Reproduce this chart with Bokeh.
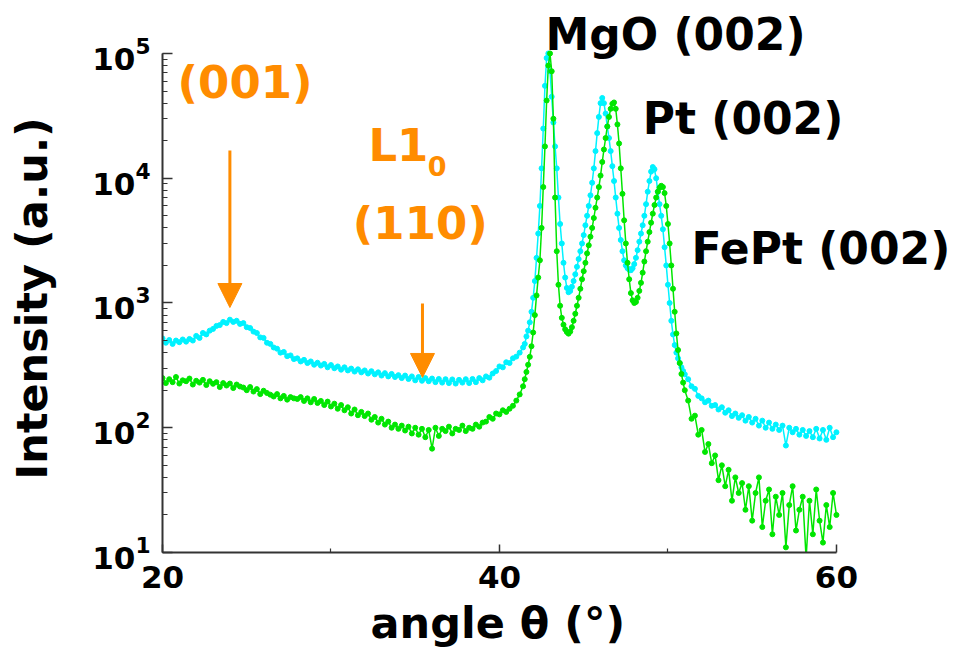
import numpy as np
from bokeh.plotting import figure
from bokeh.models import Range1d, Label, Arrow, NormalHead, FixedTicker, ColumnDataSource, Title
from bokeh.embed import file_html
from bokeh.resources import INLINE

# scan grid (degrees): three segments, finer around the Bragg peaks
angle_a = np.round(np.linspace(20.0, 41.4, 108), 2)
angle_b = np.round(np.linspace(41.5, 51.0, 96), 2)
angle_c = np.round(np.linspace(51.2, 60.0, 45), 2)

# cyan scan (upper curve), intensity in a.u.
cyan_a = [
    520, 480, 505, 470, 500, 485, 510, 490, 515, 500, 545, 525,
    575, 560, 600, 620, 655, 665, 705, 690, 735, 705, 720, 680,
    690, 640, 630, 590, 575, 530, 525, 480, 470, 440, 430, 400,
    405, 375, 380, 355, 360, 340, 350, 330, 340, 320, 332, 315,
    325, 305, 318, 300, 310, 292, 305, 288, 298, 282, 294, 278,
    288, 272, 284, 268, 278, 262, 274, 258, 270, 255, 264, 250,
    262, 246, 258, 240, 255, 238, 250, 236, 248, 232, 246, 230,
    245, 228, 244, 226, 242, 230, 245, 228, 246, 232, 250, 240,
    258, 252, 272, 285, 310, 305, 335, 330, 360, 372, 400, 440,
]
cyan_b = [
    470, 540, 600, 700, 850, 1100, 1500, 2300, 3600, 6000,
    12000, 25000, 55000, 92000, 100000, 72000, 45000, 28000, 18000, 12000,
    7000, 4300, 3000, 2100, 1600, 1320, 1220, 1250, 1350, 1500,
    1700, 1950, 2250, 2600, 3000, 3500, 4200, 5000, 6000, 7300,
    9200, 12000, 16500, 23000, 31000, 40000, 44000, 40000, 33000, 26000,
    21000, 16500, 12500, 9500, 7000, 5200, 4000, 3200, 2600, 2200,
    2000, 1900, 1850, 1830, 1900, 2050, 2300, 2650, 3100, 3600,
    4200, 5000, 6200, 7800, 9500, 11300, 12300, 11800, 10000, 7800,
    6200, 5000, 3900, 2800, 2000, 1400, 1000, 720, 560, 460,
    400, 360, 330, 305, 285, 268,
]
cyan_c = [
    245, 215, 205, 180, 172, 160, 165, 150, 152,
    140, 146, 132, 138, 124, 130, 120, 126, 114,
    122, 110, 118, 104, 114, 100, 110, 98, 106,
    96, 104, 72, 100, 92, 98, 88, 96, 86,
    94, 84, 98, 82, 96, 80, 100, 84, 92,
]

# green scan (lower curve)
green_a = [
    250, 228, 245, 232, 255, 226, 240, 236, 248, 222, 238, 230,
    242, 220, 236, 225, 232, 212, 228, 218, 226, 208, 222, 214,
    210, 200, 212, 195, 204, 186, 198, 190, 184, 178, 186, 172,
    180, 168, 176, 172, 170, 176, 164, 172, 160, 170, 158, 164,
    152, 162, 148, 156, 142, 152, 138, 146, 130, 140, 126, 134,
    124, 130, 116, 122, 110, 118, 106, 112, 100, 106, 98, 104,
    95, 102, 90, 100, 88, 98, 84, 96, 68, 100, 86, 98,
    94, 102, 90, 98, 96, 104, 94, 100, 98, 106, 102, 110,
    112, 122, 118, 130, 128, 138, 134, 142, 150, 165, 185, 215,
]
green_b = [
    245, 280, 320, 370, 450, 580, 800, 1150, 1600, 2200,
    4000, 8500, 18000, 42000, 80000, 100000, 72000, 30000, 7000, 2600,
    1400, 950, 760, 670, 615, 585, 568, 590, 640, 720,
    820, 950, 1100, 1300, 1550, 1800, 2100, 2500, 2900, 3400,
    4000, 4800, 5800, 7000, 8500, 10500, 13500, 17000, 21000, 26000,
    31000, 36000, 39500, 40500, 36000, 27000, 19000, 12000, 7500, 4600,
    3000, 2100, 1550, 1200, 1050, 1000, 1020, 1100, 1250, 1450,
    1750, 2150, 2600, 3100, 3700, 4400, 5200, 6100, 7000, 7800,
    8400, 8700, 8500, 7600, 6000, 4300, 3000, 2000, 1300, 850,
    570, 420, 330, 270, 230, 200,
]
green_c = [
    165, 118, 125, 88, 96, 64, 74, 52, 60,
    38, 50, 34, 46, 26, 40, 30, 36, 22,
    34, 18, 30, 40, 16, 26, 32, 14, 28,
    20, 30, 11, 24, 34, 15, 22, 28, 9,
    26, 14, 32, 18, 12, 24, 16, 30, 20,
]

x_ticks = [20, 40, 60]
x_minor = [30, 50]
x_axis_span = (20, 60)
y_axis_span = (10, 1e5)

CYAN = "#00F2FF"
GREEN = "#00E600"
ORANGE = "#FF8C00"
FONT = "DejaVu Sans"

angle = np.concatenate([angle_a, angle_b, angle_c])
src_cyan = ColumnDataSource(dict(x=angle, y=np.array(cyan_a + cyan_b + cyan_c, dtype=float)))
src_green = ColumnDataSource(dict(x=angle, y=np.array(green_a + green_b + green_c, dtype=float)))

# the plotting frame is extended to the right (and a little up) so that the
# peak labels are not clipped; the axes are bounded to 20-60 deg and 10-1e5
p = figure(width=953, height=660, y_axis_type="log",
           x_range=Range1d(20, 66.77), y_range=Range1d(10, 10 ** 5.072),
           output_backend="svg", toolbar_location=None,
           min_border_left=162, min_border_right=3,
           min_border_top=44, min_border_bottom=108)
p.title.visible = False
p.outline_line_color = None
p.grid.visible = False
p.background_fill_color = "white"
p.border_fill_color = "white"

for src, col in ((src_cyan, CYAN), (src_green, GREEN)):
    p.line("x", "y", source=src, line_color=col, line_width=1.5)
    p.scatter("x", "y", source=src, size=5, fill_color=col, line_color=col)

for ax in (p.xaxis[0], p.yaxis[0]):
    ax.axis_line_color = "#333333"
    ax.axis_line_width = 2
    ax.major_tick_line_color = "#333333"
    ax.minor_tick_line_color = "#333333"
    ax.major_tick_line_width = 1.5
    ax.minor_tick_line_width = 1.2
    ax.major_tick_out = 0
    ax.minor_tick_out = 0
    ax.major_label_text_font = FONT
    ax.major_label_text_font_style = "bold"
    ax.major_label_text_font_size = "31px"
    ax.major_label_text_color = "black"
    ax.axis_label_text_font = FONT
    ax.axis_label_text_font_style = "bold"
    ax.axis_label_text_font_size = "43px"
    ax.axis_label_text_color = "black"

p.xaxis.bounds = x_axis_span
p.xaxis.ticker = FixedTicker(ticks=x_ticks, minor_ticks=x_minor)
p.xaxis.major_tick_in = 8
p.xaxis.minor_tick_in = 4
p.xaxis.major_label_standoff = 13

p.yaxis.bounds = y_axis_span
p.yaxis.major_tick_in = 10
p.yaxis.minor_tick_in = 5
p.yaxis.major_label_standoff = 12
p.yaxis.axis_label = "Intensity (a.u.)"
p.yaxis.axis_label_standoff = 32

# x-axis title, placed under the 20-60 span (not under the widened frame)
xtitle = Title(text="angle θ (°)", align="left", offset=208, vertical_align="top",
               standoff=14, text_font=FONT, text_font_style="bold",
               text_font_size="43px", text_color="black")
p.add_layout(xtitle, "below")

# MgO label sits above the frame
mgo = Title(text="MgO (002)", align="left", offset=383, vertical_align="bottom",
            text_font=FONT, text_font_style="bold", text_font_size="44px",
            text_color="black")
try:
    mgo.standoff = -30
except Exception:
    mgo.standoff = 0
p.add_layout(mgo, "above")

def lab(text, x, y, color, size, align="left"):
    p.add_layout(Label(x=x, y=y, text=text, text_color=color, text_font=FONT,
                       text_font_style="bold", text_font_size=size,
                       text_align=align, text_baseline="alphabetic"))

lab("(001)", 24.9, 58600, ORANGE, "45px", "center")
lab("L1", 34.0, 18300, ORANGE, "45px", "center")
lab("0", 35.75, 12650, ORANGE, "27px")
lab("(110)", 35.3, 4340, ORANGE, "45px", "center")
lab("Pt (002)", 48.5, 30100, "black", "44px")
lab("FePt (002)", 51.4, 2735, "black", "44px")

for xa, y0, y1 in ((24.0, 16700, 920), (35.43, 990, 253)):
    p.add_layout(Arrow(x_start=xa, y_start=y0, x_end=xa, y_end=y1,
                       line_color=ORANGE, line_width=3,
                       end=NormalHead(size=24, fill_color=ORANGE, line_color=ORANGE)))

open("out.html", "w").write(file_html(p, INLINE))
